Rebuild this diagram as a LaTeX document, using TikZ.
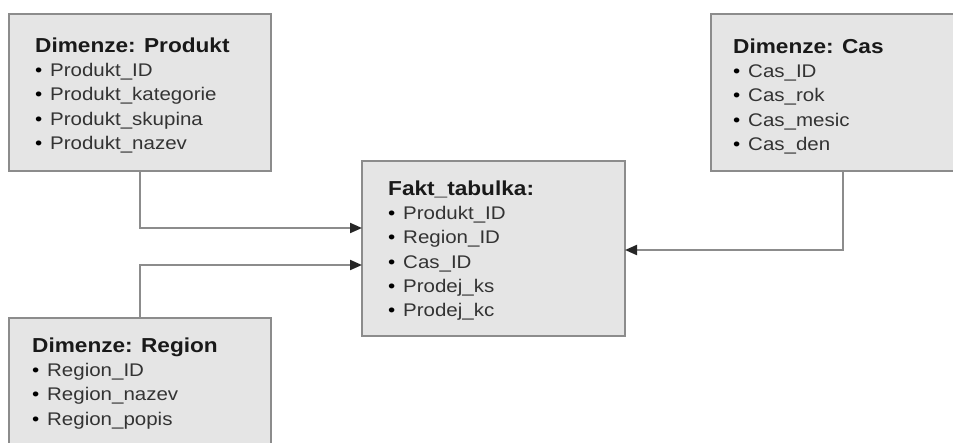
\documentclass[tikz,border=0pt]{standalone}
\usepackage{fontspec}
\setmainfont[FakeStretch=1.12]{Liberation Sans}
\usetikzlibrary{arrows.meta, calc, positioning}

\begin{document}
\begin{tikzpicture}[x=1pt,y=-1pt,
  table/.style={draw=boxline,fill=boxfill,line width=2pt,outer sep=0pt,inner sep=0pt,
    minimum width=262pt,minimum height=157pt,anchor=north west},
  fields/.style={anchor=north west,align=left,inner sep=0pt,text=itemtext,
    font=\fontsize{18.3}{24.3}\selectfont},
  link/.style={draw=linkgray,line width=2pt,-{Triangle[length=12pt,width=10pt,color=tipcolor]}}]
  \def\head#1{\textcolor{headtext}{\fontsize{20.2}{24.3}\selectfont\bfseries #1}}
  \def\fld#1{\makebox[15pt][l]{\textcolor{black}{\textbullet}}#1}

  \colorlet{boxfill}{black!10}
  \colorlet{boxline}{black!45}
  \colorlet{linkgray}{black!45}
  \colorlet{tipcolor}{black!85}
  \colorlet{itemtext}{black!80}
  \colorlet{headtext}{black!90}

  \useasboundingbox (0,0) rectangle (953,442);
  \clip (0,0) rectangle (953,442);

  \node [table] (prod) at (9,14) {};
  \node [table,minimum width=264pt] (cas) at (711,14) {};
  \node [table,minimum width=263pt,minimum height=175pt] (fakt) at (362,161) {};
  \node [table] (reg) at (9,318) {};

  \node [fields] (prod-txt) at ($ (prod.north west) + (26,23.5) $)
    {\head{Dimenze: Produkt}\\ \fld{Produkt\_ID}\\ \fld{Produkt\_kategorie}\\
     \fld{Produkt\_skupina}\\ \fld{Produkt\_nazev}};
  \node [fields] (cas-txt) at ($ (cas.north west) + (22,24.5) $)
    {\head{Dimenze: Cas}\\ \fld{Cas\_ID}\\ \fld{Cas\_rok}\\ \fld{Cas\_mesic}\\ \fld{Cas\_den}};
  \node [fields] (fakt-txt) at ($ (fakt.north west) + (26,19.5) $)
    {\head{Fakt\_tabulka:}\\ \fld{Produkt\_ID}\\ \fld{Region\_ID}\\ \fld{Cas\_ID}\\
     \fld{Prodej\_ks}\\ \fld{Prodej\_kc}};
  \node [fields] (reg-txt) at ($ (reg.north west) + (23,19.5) $)
    {\head{Dimenze: Region}\\ \fld{Region\_ID}\\ \fld{Region\_nazev}\\ \fld{Region\_popis}};

  \draw [link] (prod.south) |- ([yshift=20.5pt]fakt.west);
  \draw [link] (reg.north) |- ([yshift=-16.5pt]fakt.west);
  \draw [link] (cas.south) |- ([yshift=-1.5pt]fakt.east);
\end{tikzpicture}
\end{document}
